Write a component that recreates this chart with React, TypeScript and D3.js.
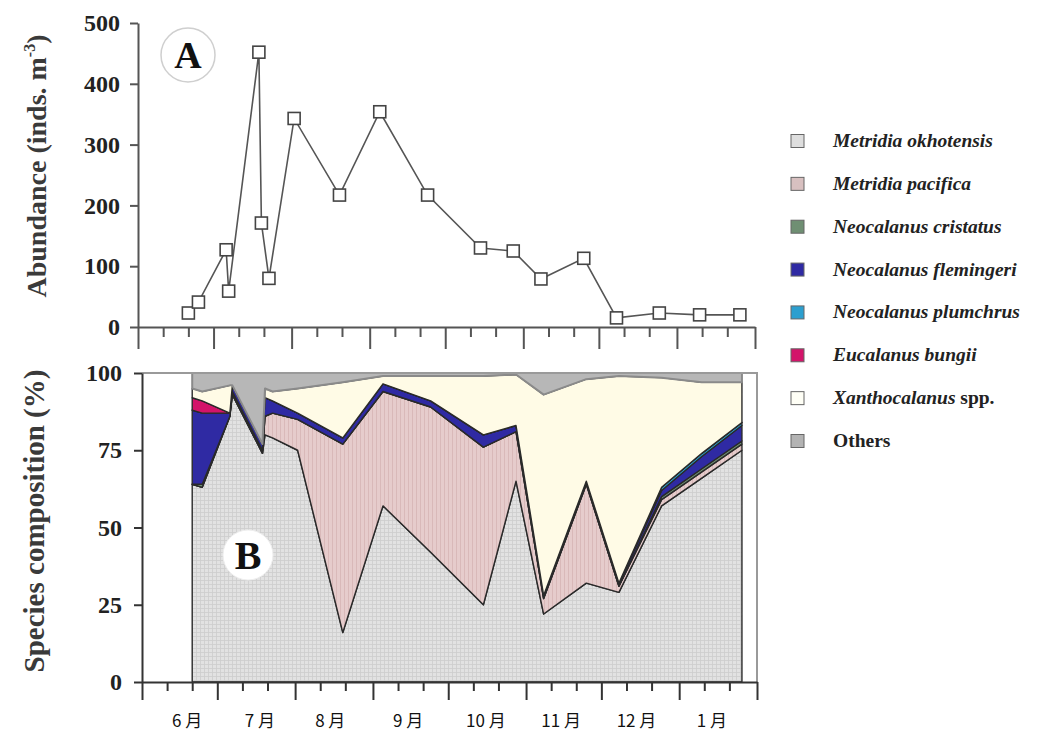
import React, { useRef, useEffect } from "react";
import * as d3 from "d3";

// sampling dates (shared by both panels)
const sampleDates = [
  "2000-06-21", "2000-06-25", "2000-07-06", "2000-07-07", "2000-07-19",
  "2000-07-20", "2000-07-23", "2000-08-02", "2000-08-20", "2000-09-05",
  "2000-09-24", "2000-10-15", "2000-10-28", "2000-11-08", "2000-11-25",
  "2000-12-08", "2000-12-25", "2001-01-10", "2001-01-26",
];

// panel A: total abundance (inds. m-3)
const abundance = [23, 41, 127, 59, 452, 171, 80, 343, 217, 354, 217, 130, 125, 79, 113, 15, 23, 20, 20];

// panel B: species composition (%)
const okhotensis = [64, 63, 86, 93, 74, 80, 79, 75, 16, 57, 42, 25, 65, 22, 32, 29, 57, 66, 75];
const pacifica = [0, 0, 0, 0, 0, 6, 8, 10, 61, 37, 47, 51, 16, 5, 32, 2, 2, 2, 2];
const cristatus = [0, 1, 0, 1, 1, 0, 0, 0, 0, 0, 0, 0, 0, 0, 0, 0, 1, 1, 1];
const flemingeri = [24, 23, 1, 2, 2, 6, 4, 2, 2, 2.5, 2, 4, 2, 1, 1, 1, 2, 4, 5];
const plumchrus = [0, 0, 0, 0, 0, 0, 0, 0, 0, 0, 0, 0, 0, 0, 0, 0, 1, 1, 1];
const bungii = [4, 4, 0, 0, 0, 0, 0, 0, 0, 0, 0, 0, 0, 0, 0, 0, 0, 0, 0];
const xanthocalanus = [3, 3, 9, 0, 0, 3, 3, 8, 18, 2.5, 8, 19, 16.5, 65, 33, 67, 35.5, 23, 13];
const others = [5, 6, 4, 4, 23, 5, 6, 5, 3, 1, 1, 1, 0.5, 7, 2, 1, 1.5, 3, 3];

const speciesKeys = ["okh", "pac", "cri", "fle", "plu", "bun", "xan", "oth"];
const speciesNames = [
  "Metridia okhotensis", "Metridia pacifica", "Neocalanus cristatus", "Neocalanus flemingeri",
  "Neocalanus plumchrus", "Eucalanus bungii", "Xanthocalanus", "Others",
];
const seriesValues = [okhotensis, pacifica, cristatus, flemingeri, plumchrus, bungii, xanthocalanus, others];

const abundanceTicks = [0, 100, 200, 300, 400, 500];
const compositionTicks = [0, 25, 50, 75, 100];
const monthLabels = ["6 月", "7 月", "8 月", "9 月", "10 月", "11 月", "12 月", "1 月"];
const monthLabelDates = [
  "2000-06-19", "2000-07-18", "2000-08-15", "2000-09-15",
  "2000-10-16", "2000-11-15", "2000-12-15", "2001-01-14",
];

const fills: Record<string, string> = {
  okh: "url(#gridPat)", pac: "url(#stripePat)", cri: "#6f8f73", fle: "#2f2aa3",
  plu: "#2c9fcf", bun: "#d3146a", xan: "#fffbe6", oth: "#b7b7b7",
};
const swatch: Record<string, string> = {
  okh: "#dedede", pac: "#d8c0c0", cri: "#6f8f73", fle: "#2f2aa3",
  plu: "#2c9fcf", bun: "#d3146a", xan: "#fffff6", oth: "#b3b3b3",
};

const SERIF = "'Liberation Serif', 'DejaVu Serif', serif";

const App = () => {
  const svgRef = useRef<SVGSVGElement | null>(null);

  useEffect(() => {
    const svg = d3.select(svgRef.current);
    svg.selectAll("*").remove();

    const parse = d3.timeParse("%Y-%m-%d");
    const dates = sampleDates.map((s) => parse(s) as Date);
    const domain = [parse("2000-06-01") as Date, parse("2001-02-01") as Date];

    const xTop = d3.scaleTime().domain(domain).range([138, 755]);
    const yTop = d3.scaleLinear().domain([0, 500]).range([327, 23]);
    const xBot = d3.scaleTime().domain(domain).range([142, 757]);
    const yBot = d3.scaleLinear().domain([0, 100]).range([682, 373]);

    const monthTicks = d3.timeMonth.range(domain[0], d3.timeDay.offset(domain[1], 1));
    const minorTicks: Date[] = [];
    monthTicks.slice(0, -1).forEach((m) => {
      minorTicks.push(d3.timeDay.offset(m, 10), d3.timeDay.offset(m, 20));
    });

    // patterns
    const defs = svg.append("defs");
    const grid = defs.append("pattern").attr("id", "gridPat")
      .attr("patternUnits", "userSpaceOnUse").attr("width", 4).attr("height", 4);
    grid.append("rect").attr("width", 4).attr("height", 4).attr("fill", "#e2e2e2");
    grid.append("path").attr("d", "M0,0.5H4M0.5,0V4").attr("stroke", "#cdcdcd").attr("stroke-width", 0.8);
    const stripe = defs.append("pattern").attr("id", "stripePat")
      .attr("patternUnits", "userSpaceOnUse").attr("width", 4).attr("height", 4);
    stripe.append("rect").attr("width", 4).attr("height", 4).attr("fill", "#e6cccc");
    stripe.append("path").attr("d", "M0.5,0V4").attr("stroke", "#d9b9b9").attr("stroke-width", 1);

    // ---------- panel A ----------
    const gA = svg.append("g");
    gA.append("g")
      .attr("transform", "translate(0,327)")
      .call(d3.axisBottom(xTop).tickValues(minorTicks).tickSize(10).tickFormat(() => ""))
      .call((g) => g.select(".domain").remove());
    gA.append("g")
      .attr("transform", "translate(0,327)")
      .call(d3.axisBottom(xTop).tickValues(monthTicks).tickSize(22).tickSizeOuter(0).tickFormat(() => ""));
    gA.append("g")
      .attr("transform", "translate(138,0)")
      .call(d3.axisLeft(yTop).tickValues(abundanceTicks).tickSize(8).tickSizeOuter(0).tickPadding(10))
      .selectAll("text")
      .attr("font-family", SERIF).attr("font-size", 24).attr("font-weight", "bold").attr("fill", "#222");
    gA.selectAll(".domain, .tick line").attr("stroke", "#555").attr("stroke-width", 2);

    const line = d3.line<number>().x((_, i) => xTop(dates[i])).y((d) => yTop(d));
    gA.append("path").datum(abundance)
      .attr("fill", "none").attr("stroke", "#555").attr("stroke-width", 1.6).attr("d", line);
    gA.selectAll(".pt").data(abundance).enter().append("rect")
      .attr("x", (_, i) => xTop(dates[i]) - 6).attr("y", (d) => yTop(d) - 6)
      .attr("width", 12).attr("height", 12)
      .attr("fill", "#fff").attr("stroke", "#444").attr("stroke-width", 1.6);

    gA.append("circle").attr("cx", 188).attr("cy", 55).attr("r", 27)
      .attr("fill", "#fff").attr("stroke", "#cfcfcf").attr("stroke-width", 1.5);
    gA.append("text").attr("x", 188).attr("y", 68).attr("text-anchor", "middle")
      .attr("font-family", SERIF).attr("font-size", 38).attr("font-weight", "bold").attr("fill", "#111").text("A");

    const tA = gA.append("text")
      .attr("transform", "translate(46,166) rotate(-90)")
      .attr("text-anchor", "middle")
      .attr("font-family", SERIF).attr("font-size", 28).attr("font-weight", "bold").attr("fill", "#3a3a3a");
    tA.append("tspan").text("Abundance (inds. m");
    tA.append("tspan").attr("font-size", 16).attr("dy", -11).text("-3");
    tA.append("tspan").attr("dy", 11).text(")");

    // ---------- panel B ----------
    const gB = svg.append("g");
    const rows = dates.map((date, i) => {
      const r: any = { date };
      speciesKeys.forEach((k, j) => { r[k] = seriesValues[j][i]; });
      return r;
    });
    const stacked = d3.stack().keys(speciesKeys)(rows);
    const area = d3.area<any>()
      .x((d) => xBot(d.data.date))
      .y0((d) => yBot(d[0]))
      .y1((d) => yBot(d[1]));

    gB.selectAll(".layer").data(stacked).enter().append("path")
      .attr("d", area)
      .attr("fill", (d) => fills[d.key])
      .attr("stroke", (d) => (d.key === "oth" ? "#8a8a8a" : "#2a2a2a"))
      .attr("stroke-width", (d) => (d.key === "oth" ? 2 : 1.4))
      .attr("stroke-linejoin", "round");

    // frame
    gB.append("path")
      .attr("d", `M${xBot(domain[0])},${yBot(100)}H${xBot(domain[1])}V${yBot(0)}`)
      .attr("fill", "none").attr("stroke", "#9a9a9a").attr("stroke-width", 2);

    gB.append("g")
      .attr("transform", "translate(0,682)")
      .call(d3.axisBottom(xBot).tickValues(minorTicks).tickSize(9).tickFormat(() => ""))
      .call((g) => g.select(".domain").remove());
    gB.append("g")
      .attr("transform", "translate(0,682)")
      .call(d3.axisBottom(xBot).tickValues(monthTicks).tickSize(18).tickSizeOuter(0).tickFormat(() => ""));
    gB.append("g")
      .attr("transform", "translate(142,0)")
      .call(d3.axisLeft(yBot).tickValues(compositionTicks).tickSize(8).tickSizeOuter(0).tickPadding(12))
      .selectAll("text")
      .attr("font-family", SERIF).attr("font-size", 24).attr("font-weight", "bold").attr("fill", "#222");
    gB.selectAll(".domain, .tick line").attr("stroke", "#333").attr("stroke-width", 2);

    gB.selectAll(".mlab").data(monthLabels).enter().append("text")
      .attr("x", (_, i) => xBot(parse(monthLabelDates[i]) as Date))
      .attr("y", 727)
      .attr("text-anchor", "middle")
      .attr("font-family", "'Noto Sans CJK JP', sans-serif").attr("font-size", 17).attr("fill", "#111")
      .text((d) => d);

    gB.append("circle").attr("cx", 248).attr("cy", 555).attr("r", 25)
      .attr("fill", "#fff").attr("stroke", "#eee").attr("stroke-width", 1);
    gB.append("text").attr("x", 248).attr("y", 569).attr("text-anchor", "middle")
      .attr("font-family", SERIF).attr("font-size", 40).attr("font-weight", "bold").attr("fill", "#111").text("B");

    gB.append("text")
      .attr("transform", "translate(44,521) rotate(-90)")
      .attr("text-anchor", "middle")
      .attr("font-family", SERIF).attr("font-size", 29).attr("font-weight", "bold").attr("fill", "#3a3a3a")
      .text("Species composition (%)");

    // ---------- legend ----------
    const leg = svg.append("g");
    const legY = d3.scalePoint().domain(speciesKeys).range([141, 441]);
    speciesKeys.forEach((k, i) => {
      const y = legY(k) as number;
      leg.append("rect").attr("x", 791).attr("y", y - 6.5).attr("width", 13).attr("height", 13)
        .attr("fill", swatch[k]).attr("stroke", "#666").attr("stroke-width", 1);
      const t = leg.append("text").attr("x", 833).attr("y", y + 6)
        .attr("font-family", SERIF).attr("font-size", 19.5).attr("font-weight", "bold").attr("fill", "#222");
      if (k === "oth") {
        t.text(speciesNames[i]);
      } else {
        t.append("tspan").attr("font-style", "italic").text(speciesNames[i]);
        if (k === "xan") t.append("tspan").text(" spp.");
      }
    });
  }, []);

  return (
    <svg
      ref={svgRef}
      width={1047}
      height={735}
      style={{ position: "absolute", left: 0, top: 0, background: "#fff" }}
    />
  );
};

export default App;
